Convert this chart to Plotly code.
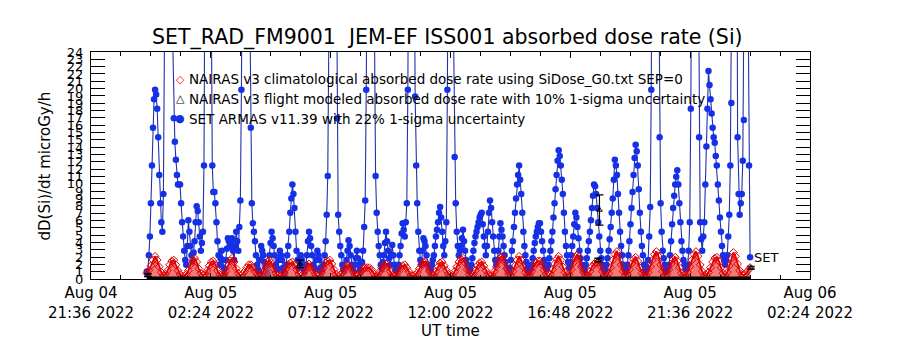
import plotly.graph_objects as go
import pandas as pd

# ---------------- data ----------------
title_text = "SET_RAD_FM9001  JEM-EF ISS001 absorbed dose rate (Si)"
y_title = "dD(Si)/dt microGy/h"
x_title = "UT time"

series_start = "2022-08-04 23:50"
armas_step = "150s"      # 2.5-minute samples
clim_step = "5min"       # 5-minute samples

# SET ARMAS v11.39 dose rate (microGy/h)
armas_vals = [
    0.8, 0.5, 2.5, 4.5, 8, 12, 16, 19, 20, 19.5, 18, 15, 11, 8, 6, 5, 9, 25, 60, 85,
    95, 99, 80, 60, 45, 25, 17, 14.5, 12.6, 11, 10, 10, 10, 8, 6, 4.5, 3, 2, 1.5, 3.5,
    6.2, 5, 3.5, 2.5, 1.8, 2.8, 4, 6, 7.7, 7.2, 6, 4.5, 3, 3.8, 5, 12, 40, 70, 85, 90,
    60, 45, 30, 12, 9.2, 9.2, 8, 6, 4, 2.5, 1.5, 2.2, 3, 2, 1.2, 0.6, 2, 3.2, 4.3, 4,
    3.5, 4, 4.3, 3, 2, 3.5, 5, 4, 3, 5.5, 8.3, 20, 40, 70, 90, 95, 85, 70, 50, 30,
    16, 8, 5.9, 5, 4, 2.5, 1.5, 1, 0.8, 2, 3.5, 3, 2.5, 1.8, 1.2, 0.8, 0.6, 1.5, 2.5, 3.8,
    5, 4.3, 3.5, 2.5, 1.5, 1.2, 1, 2, 3, 2.5, 2, 1.2, 0.8, 0.5, 1.5, 2.5, 3.5, 5, 7, 8.5,
    10, 9, 7.5, 5, 3, 2, 1.2, 1.8, 2.5, 2, 1.5, 1, 0.8, 1.5, 2.5, 4, 5, 4.3, 3.5, 2.5,
    1.5, 1.2, 1, 2, 3, 2.5, 2, 1.2, 0.8, 1, 1.5, 2.5, 4, 6.8, 10.9, 25, 50, 80, 95, 90,
    80, 60, 40, 17, 6.8, 5, 3.5, 2.5, 1.5, 1, 0.8, 1.2, 2, 3, 4.1, 3.5, 2.5, 1.5, 1, 0.8,
    1.5, 2.2, 3, 2.2, 1.5, 1, 0.8, 1.8, 3, 5.5, 8.3, 20, 45, 70, 90, 95, 80, 65, 50, 25,
    10.9, 7, 5, 3.5, 2.5, 1.5, 1, 1.8, 2.5, 3.8, 5, 4, 3, 2.2, 1.5, 2.5, 3.6, 2.5, 1.5, 1,
    0.8, 1, 1.5, 2.5, 3.5, 4.8, 5.9, 5.2, 4.5, 6, 8, 20, 50, 80, 95, 85, 70, 40, 19.3, 12,
    8, 5, 3, 2, 1.5, 3, 4.3, 4, 3.5, 2.5, 1.5, 1, 0.8, 1, 1.5, 2, 2.5, 3.5, 4.5, 5.2,
    6, 7, 7.6, 6.5, 5, 3.5, 2.5, 4, 6, 20, 45, 75, 90, 70, 40, 25, 12.9, 8, 5, 3.5,
    2.5, 3, 3.5, 4.3, 5.2, 4, 3, 2, 1.5, 1, 0.8, 1, 1.5, 2.2, 3, 3.8, 4.5, 5, 5.5, 6,
    6.5, 6.8, 7, 5.8, 4.5, 3.5, 2.5, 3.5, 5, 7, 8.3, 7.5, 6, 4.5, 3, 2, 1.5, 2, 3, 4.5,
    5.9, 5.2, 4.5, 3.5, 2.5, 1.8, 1.2, 0.8, 0.8, 1.2, 2, 3, 4, 5.5, 7, 8.5, 10, 11, 12, 10.5,
    9, 7, 5, 3.5, 2.5, 1.8, 1.2, 0.8, 0.8, 1, 1.5, 2.2, 3, 3.8, 4.5, 5, 5.5, 5.9, 5.9, 5,
    4, 3, 2, 1.5, 1, 1.2, 1.5, 2.2, 3, 4, 5, 6.5, 8, 9.5, 11, 12.5, 13.6, 13, 12, 10.5,
    9, 7, 5, 3.5, 2.5, 1.8, 1.2, 1.8, 2.5, 3.5, 4.5, 5.8, 7, 6.5, 5.5, 4.3, 3, 2.2, 1.5, 1,
    0.8, 1, 1.5, 2.2, 3, 4, 5, 6.2, 7.5, 8.8, 10, 9.8, 9, 7.5, 6, 4.5, 3, 2.2, 1.5, 1,
    0.8, 1, 1.5, 2.2, 3, 4.2, 5.5, 7, 8.5, 10.5, 12.6, 12, 11, 9, 7, 5, 3.5, 2.5, 1.5, 1,
    0.8, 1, 1.5, 2.5, 4, 5.8, 7.5, 9.2, 11, 12.8, 14.2, 13.5, 12, 9.5, 7, 5, 3.5, 2.5, 1.5, 1,
    0.8, 1.2, 2, 4.5, 7.6, 20, 50, 80, 95, 90, 80, 60, 35, 15, 8, 5, 3, 2.2, 1.5, 1,
    0.8, 1, 1.5, 2.5, 4, 5.8, 7.5, 8.8, 10, 10.8, 11.5, 10, 8, 6, 4, 3, 2, 1.5, 1, 1.2,
    1.5, 3, 6, 18, 40, 70, 90, 95, 85, 65, 40, 15, 6, 4.2, 3, 4.5, 6, 10, 14, 18,
    22, 20.5, 19, 17.5, 16, 15, 14.4, 13, 12, 10, 8.3, 6.5, 5, 3.5, 2.5, 2, 1.5, 2, 2.5, 4.5,
    6.8, 12, 18.6, 40, 60, 80, 90, 50, 15, 9, 6.8, 8, 9, 12.5, 16.8, 35, 60, 45, 30, 12,
    2.3,
]

# NAIRAS v3 climatological dose rate (microGy/h)
nairas_clim_vals = [
    0.6, 0.9, 1.4, 2.0, 2.4, 2.0, 1.3, 0.7, 0.4,
    0.5, 0.9, 1.5, 1.9, 2.0, 1.5, 0.9, 0.5, 0.3,
    0.3, 0.5, 0.9, 1.5, 2.0, 2.2, 1.8, 1.1, 0.6, 0.4,
    0.5, 0.9, 1.4, 1.8, 1.9, 1.5, 0.9, 0.5, 0.3,
    0.4, 0.8, 1.4, 1.9, 2.2, 1.8, 1.1, 0.6, 0.4,
    0.5, 0.8, 1.2, 1.5, 1.5, 1.2, 0.8, 0.5, 0.3,
    0.4, 0.8, 1.4, 1.8, 2.0, 1.7, 1.1, 0.6, 0.4, 0.3,
    0.4, 0.7, 1.1, 1.5, 1.7, 1.8, 1.5, 1.0, 0.5, 0.3,
    0.5, 0.9, 1.3, 1.6, 1.3, 0.9, 0.5, 0.3, 0.4,
    0.7, 1.2, 1.7, 1.9, 2.0, 1.6, 1.0, 0.5, 0.3,
    0.4, 0.7, 1.1, 1.4, 1.5, 1.2, 0.8, 0.4, 0.3,
    0.5, 0.8, 1.1, 1.2, 1.2, 1.2, 1.0, 0.6, 0.3,
    0.4, 0.8, 1.2, 1.5, 1.6, 1.3, 0.8, 0.4, 0.3,
    0.4, 0.8, 1.2, 1.4, 1.5, 1.2, 0.8, 0.4, 0.3,
    0.4, 0.7, 1.1, 1.5, 1.8, 1.8, 1.4, 0.8, 0.4,
    0.4, 0.8, 1.3, 1.7, 1.8, 1.4, 0.9, 0.5, 0.3,
    0.4, 0.8, 1.3, 1.8, 2.1, 2.2, 1.7, 1.0, 0.5, 0.3,
    0.5, 0.9, 1.4, 1.7, 1.8, 1.4, 0.9, 0.5, 0.3,
    0.4, 0.8, 1.3, 1.9, 2.3, 2.4, 1.8, 1.1, 0.5,
    0.4, 0.8, 1.4, 2.0, 2.4, 2.0, 1.3, 0.7, 0.4,
    0.4, 0.8, 1.3, 1.7, 1.9, 1.9, 1.5, 0.9, 0.5, 0.3,
    0.5, 1.0, 1.6, 2.1, 2.4, 2.0, 1.3, 0.7, 0.4,
    0.5, 1.0, 1.7, 2.3, 2.6, 2.1, 1.3, 0.7, 0.4,
    0.4, 0.8, 1.3, 1.6, 1.8, 1.8, 1.4, 0.8, 0.4, 0.3,
    0.6, 1.2, 2.0, 2.6, 2.9, 2.4, 1.5, 0.8, 0.4,
    0.5, 1.0, 1.6, 2.1, 2.3, 1.9, 1.2, 0.6, 0.4, 0.4,
    0.7, 1.3, 2.0, 2.6, 2.9, 2.4, 1.5, 0.8, 0.4,
    0.5, 1.0, 1.6, 2.1, 2.3, 1.9, 1.2, 0.6, 0.4, 0.4,
    0.7, 1.3, 2.0, 2.6, 2.9, 2.4, 1.5, 0.8, 0.4, 0.4,
    0.7, 1.2, 1.8, 2.2, 2.3, 1.9, 1.2, 0.6, 0.4,
    0.7, 1.4, 2.2, 2.8, 2.4, 1.6, 0.9, 0.5, 0.4, 0.6, 0.9, 1.2,
]

# NAIRAS v3 flight-modeled dose rate: zero along the track ...
nairas_flight_zero = [0.0] * len(nairas_clim_vals)
# ... except these points (with 1-sigma uncertainty)
nairas_flight_times = ["2022-08-04 23:53", "2022-08-05 05:58", "2022-08-05 17:55",
                       "2022-08-05 17:58", "2022-08-06 00:02"]
nairas_flight_vals = [0.4, 1.6, 2.0, 7.3, 1.2]
nairas_flight_err = [0.15, 0.4, 0.2, 1.6, 0.15]

x_range = ["2022-08-04 21:36", "2022-08-06 02:24"]
x_tickvals = ["2022-08-04 21:36", "2022-08-05 02:24", "2022-08-05 07:12", "2022-08-05 12:00",
              "2022-08-05 16:48", "2022-08-05 21:36", "2022-08-06 02:24"]
x_ticktext = ["Aug 04<br>21:36 2022", "Aug 05<br>02:24 2022", "Aug 05<br>07:12 2022",
              "Aug 05<br>12:00 2022", "Aug 05<br>16:48 2022", "Aug 05<br>21:36 2022",
              "Aug 06<br>02:24 2022"]
y_max = 24
y_nticks = 31
y_tickvals = [k * y_max / y_nticks for k in range(y_nticks + 1)]
y_ticktext = [str(int(round(v))) for v in y_tickvals]

legend_lines = [
    ("\u25c7", "red", "NAIRAS v3 climatological absorbed dose rate using SiDose_G0.txt SEP=0"),
    ("\u25b3", "black", "NAIRAS v3 flight modeled absorbed dose rate with 10% 1-sigma uncertainty"),
    ("\u25cf", "#1530e0", "SET ARMAS v11.39 with 22% 1-sigma uncertainty"),
]

# ---------------- figure ----------------
FONT = "DejaVu Sans"
t_armas = pd.date_range(series_start, periods=len(armas_vals), freq=armas_step)
t_clim = pd.date_range(series_start, periods=len(nairas_clim_vals), freq=clim_step)
t_zero = pd.date_range(series_start, periods=len(nairas_flight_zero), freq=clim_step)

fig = go.Figure()
fig.add_trace(go.Scatter(
    x=t_armas, y=armas_vals, mode="lines+markers",
    line=dict(color="#2232a8", width=1.1),
    marker=dict(symbol="circle", size=6.5, color="#1530e6"),
    showlegend=False))
fig.add_trace(go.Scatter(
    x=t_clim, y=nairas_clim_vals, mode="lines+markers",
    fill="tozeroy", fillcolor="rgba(238,70,70,0.72)",
    line=dict(color="#e00000", width=1.8),
    marker=dict(symbol="diamond-open", size=6, color="#e00000", line=dict(width=1)),
    showlegend=False))
fig.add_trace(go.Scatter(
    x=t_zero, y=nairas_flight_zero, mode="lines",
    line=dict(color="black", width=5),
    showlegend=False))
fig.add_trace(go.Scatter(
    x=pd.to_datetime(nairas_flight_times), y=nairas_flight_vals, mode="markers",
    marker=dict(symbol="triangle-up-open", size=5, color="black"),
    error_y=dict(type="data", array=nairas_flight_err, color="black", thickness=1.2, width=4),
    showlegend=False))

# legend (drawn as text inside the plot)
for k, (sym, col, txt) in enumerate(legend_lines):
    yy = 0.88 - k * 0.087
    fig.add_annotation(xref="paper", yref="paper", x=0.124, y=yy, text=sym,
                       showarrow=False, xanchor="center", yanchor="middle",
                       font=dict(family=FONT, size=11, color=col))
    fig.add_annotation(xref="paper", yref="paper", x=0.133, y=yy, text=txt,
                       showarrow=False, xanchor="left", yanchor="middle",
                       font=dict(family=FONT, size=13.5, color="black"))

fig.add_annotation(xref="x", yref="y", x=t_armas[-1], y=2.3, text="SET",
                   showarrow=False, xanchor="left", yanchor="middle", xshift=2,
                   font=dict(family=FONT, size=13, color="black"))
fig.add_annotation(xref="paper", yref="paper", x=-0.064, y=0.5, text=y_title,
                   textangle=-90, showarrow=False, xanchor="center", yanchor="middle",
                   font=dict(family=FONT, size=15, color="black"))
fig.add_annotation(xref="paper", yref="paper", x=0.5, y=-0.23, text=x_title,
                   showarrow=False, xanchor="center", yanchor="middle",
                   font=dict(family=FONT, size=15, color="black"))

fig.update_layout(
    width=900, height=350,
    margin=dict(l=91, r=90, t=52, b=71),
    paper_bgcolor="white", plot_bgcolor="white",
    font=dict(family=FONT, color="black"),
    title=dict(text=title_text, x=0.497, xanchor="center", y=0.894, yanchor="middle",
               yref="container", font=dict(family=FONT, size=20.5, color="black")),
    showlegend=False,
)
fig.update_xaxes(
    type="date", range=x_range, tickmode="array", tickvals=x_tickvals, ticktext=x_ticktext,
    ticks="inside", ticklen=6, tickcolor="black", tickwidth=1,
    showline=True, linecolor="black", linewidth=1, mirror="ticks",
    showgrid=False, zeroline=False,
    tickfont=dict(family=FONT, size=15, color="black"),
    minor=dict(ticks="inside", ticklen=4, tickcolor="black", dtick=72 * 60 * 1000,
               tick0="2022-08-04 21:36", showgrid=False),
)
fig.update_yaxes(
    range=[0, y_max], tickmode="array", tickvals=y_tickvals, ticktext=y_ticktext,
    ticks="inside", ticklen=14, tickcolor="black", tickwidth=1,
    showline=True, linecolor="black", linewidth=1, mirror="ticks",
    showgrid=False, zeroline=False, ticklabelstandoff=4,
    tickfont=dict(family=FONT, size=13, color="black"),
)

fig.write_html("out.html")
